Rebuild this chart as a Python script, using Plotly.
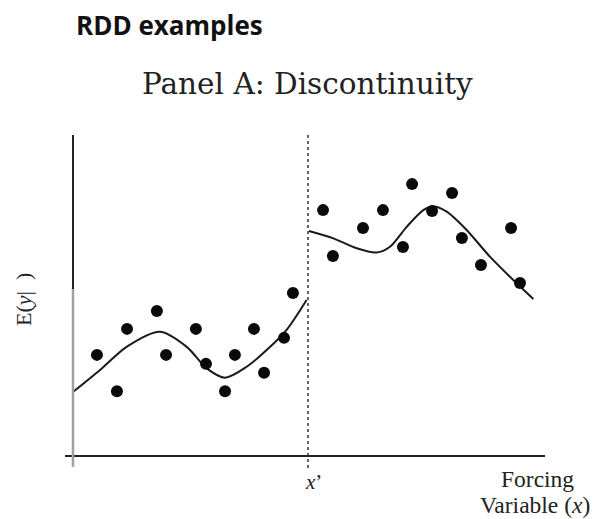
import plotly.graph_objects as go

# Data (forcing variable x, outcome y); cutoff at x = 10
cutoff = 10.0

left_x = [1.02, 1.87, 2.30, 3.57, 3.96, 5.23, 5.66, 6.47, 6.89, 7.70, 8.13, 8.98, 9.36]
left_y = [3.15, 2.02, 3.96, 4.52, 3.15, 3.96, 2.87, 2.02, 3.15, 3.96, 2.59, 3.68, 5.08]

right_x = [10.64, 11.06, 12.34, 13.19, 14.04, 14.43, 15.28, 16.13, 16.55, 17.36, 18.64, 19.02]
right_y = [7.66, 6.23, 7.10, 7.66, 6.51, 8.47, 7.63, 8.19, 6.79, 5.95, 7.10, 5.39]

fit_left_x = [0.01, 1.15, 2.28, 3.70, 4.84, 5.69, 6.47, 7.39, 8.24, 9.09, 9.94]
fit_left_y = [2.00, 2.68, 3.40, 3.87, 3.40, 2.73, 2.44, 2.78, 3.30, 3.93, 4.86]

fit_right_x = [10.04, 11.08, 12.07, 12.92, 13.49, 14.20, 14.91, 15.33, 15.90, 16.75, 17.74, 18.88, 19.59]
fit_right_y = [7.01, 6.78, 6.47, 6.34, 6.52, 7.14, 7.66, 7.77, 7.61, 7.04, 6.21, 5.38, 4.89]

W, H = 601, 519
x_range = [-3.106, 22.468]
y_range = [-1.963, 14.206]

fig = go.Figure()

line_style = dict(color="#1a1a1a", width=2, shape="spline", smoothing=0.8)
fig.add_trace(go.Scatter(x=fit_left_x, y=fit_left_y, mode="lines", line=line_style, showlegend=False))
fig.add_trace(go.Scatter(x=fit_right_x, y=fit_right_y, mode="lines", line=line_style, showlegend=False))

dot_style = dict(color="#0a0a0a", size=12, line=dict(width=0))
fig.add_trace(go.Scatter(x=left_x, y=left_y, mode="markers", marker=dot_style, showlegend=False))
fig.add_trace(go.Scatter(x=right_x, y=right_y, mode="markers", marker=dot_style, showlegend=False))

shapes = [
    # x axis
    dict(type="line", xref="x", yref="y", x0=-0.34, x1=20.09, y0=0, y1=0,
         line=dict(color="#222222", width=2)),
    # y axis upper (black) and lower (grey) parts
    dict(type="line", xref="x", yref="y", x0=0, x1=0, y0=10.0, y1=5.2,
         line=dict(color="#222222", width=2)),
    dict(type="line", xref="x", yref="y", x0=0, x1=0, y0=5.2, y1=-0.34,
         line=dict(color="#a0a0a0", width=2.5)),
    # cutoff dotted line
    dict(type="line", xref="x", yref="y", x0=cutoff, x1=cutoff, y0=10.0, y1=-0.45,
         line=dict(color="#333333", width=1.5, dash="dot")),
]

def px(xp):
    return xp / W

def py(yp):
    return 1 - yp / H

annotations = [
    dict(text="<b>RDD examples</b>", x=px(74), y=py(25), xanchor="left", yanchor="middle",
         font=dict(family="Open Sans", size=26, color="#111111")),
    dict(text="Panel A: Discontinuity", x=px(307), y=py(84), xanchor="center", yanchor="middle",
         font=dict(family="DejaVu Serif", size=29.5, color="#222222")),
    dict(text="E(<i>y</i>|\u00a0\u00a0)", x=px(23), y=py(300), xanchor="center", yanchor="middle",
         textangle=-90, font=dict(family="Liberation Serif", size=22, color="#222222")),
    dict(text="<i>x</i>’", x=px(313), y=py(482), xanchor="center", yanchor="middle",
         font=dict(family="Liberation Serif", size=21, color="#222222")),
    dict(text="Forcing", x=px(537), y=py(479), xanchor="center", yanchor="middle",
         font=dict(family="Liberation Serif", size=23.5, color="#222222")),
    dict(text="Variable (<i>x</i>)", x=px(535), y=py(505), xanchor="center", yanchor="middle",
         font=dict(family="Liberation Serif", size=23.5, color="#222222")),
]
for a in annotations:
    a.update(xref="paper", yref="paper", showarrow=False)

fig.update_layout(
    width=W, height=H,
    margin=dict(l=0, r=0, t=0, b=0),
    paper_bgcolor="white", plot_bgcolor="white",
    xaxis=dict(range=x_range, visible=False, fixedrange=True),
    yaxis=dict(range=y_range, visible=False, fixedrange=True),
    shapes=shapes,
    annotations=annotations,
    showlegend=False,
)

fig.write_html(
    "out.html",
    config={"displayModeBar": False},
    post_script="document.body.style.margin='0px';document.body.style.overflow='hidden';",
)
